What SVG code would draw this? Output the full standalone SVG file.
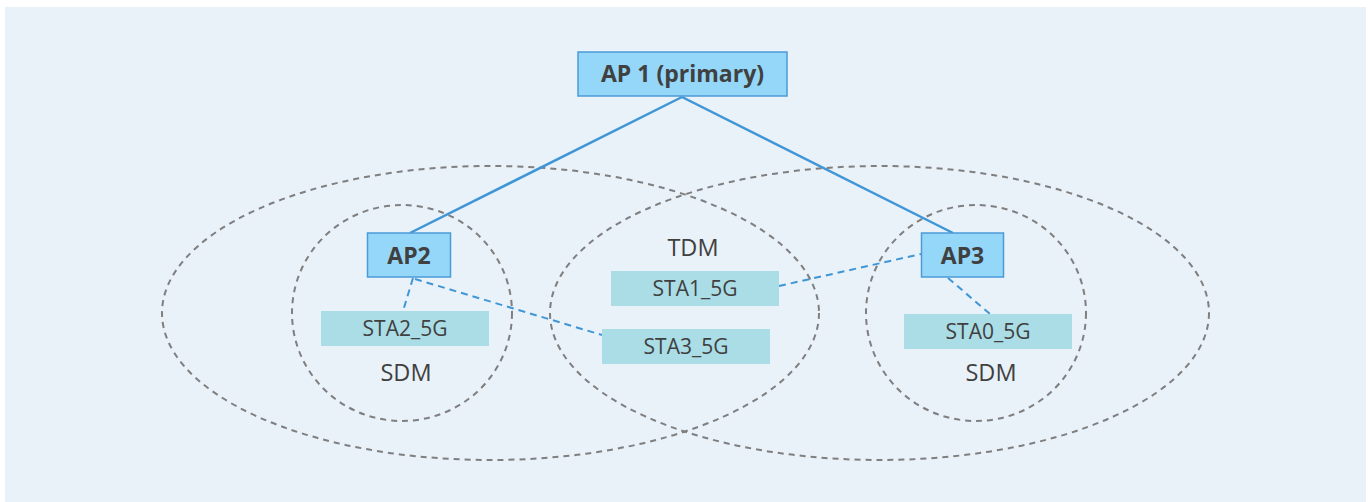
<svg xmlns="http://www.w3.org/2000/svg" width="1370" height="502" viewBox="0 0 1370 502">
<style>
.bg{fill:#E9F1F9}
.zone{fill:none;stroke:#7F7F7F;stroke-width:2;stroke-dasharray:6 5}
.ap{fill:#94D7F8;stroke:#4B9BD8;stroke-width:1.5}
.sta{fill:#AADDE6}
.aptxt{font-family:"Open Sans","Noto Sans",sans-serif;font-weight:bold;font-size:23px;fill:#404040;text-anchor:middle}
.statxt{font-family:"Open Sans","Noto Sans",sans-serif;font-size:21px;fill:#404040;text-anchor:middle}
.lbl{font-family:"Open Sans","Noto Sans",sans-serif;font-size:23.5px;fill:#404040;text-anchor:middle}
.solid{fill:none;stroke:#3F96D6;stroke-width:2.5}
.dash{fill:none;stroke:#3F96D6;stroke-width:2;stroke-dasharray:7 5}
</style>
<rect class="bg" x="5" y="7" width="1361" height="495"/>
<g id="zones">
<ellipse class="zone" cx="490.5" cy="313" rx="328.5" ry="147"/>
<ellipse class="zone" cx="879.5" cy="313" rx="329.5" ry="147"/>
<ellipse class="zone" cx="402" cy="313" rx="110" ry="108"/>
<ellipse class="zone" cx="976" cy="313" rx="110" ry="108"/>
</g>
<g id="connectors">
<line class="solid" x1="682" y1="97" x2="410" y2="233"/>
<line class="solid" x1="682" y1="97" x2="953" y2="233"/>
<line class="dash" x1="413" y1="278" x2="403" y2="311"/>
<line class="dash" x1="415" y1="279" x2="602" y2="335"/>
<line class="dash" x1="779" y1="286" x2="921" y2="254"/>
<line class="dash" x1="948" y1="278" x2="990" y2="314"/>
</g>
<g id="ap1"><rect class="ap" x="578" y="52" width="209" height="44"/><text class="aptxt" x="682.5" y="81.5">AP 1 (primary)</text></g>
<g id="ap2"><rect class="ap" x="367.5" y="233" width="83" height="44"/><text class="aptxt" x="409" y="264">AP2</text></g>
<g id="ap3"><rect class="ap" x="921.5" y="233" width="82" height="44"/><text class="aptxt" x="962.5" y="264">AP3</text></g>
<g id="sta2"><rect class="sta" x="321" y="311" width="168" height="35"/><text class="statxt" x="405" y="335.5">STA2_5G</text></g>
<g id="sta1"><rect class="sta" x="611" y="271" width="168" height="35"/><text class="statxt" x="695" y="295.5">STA1_5G</text></g>
<g id="sta3"><rect class="sta" x="602" y="329" width="168" height="35"/><text class="statxt" x="686" y="353.5">STA3_5G</text></g>
<g id="sta0"><rect class="sta" x="904" y="314" width="168" height="35"/><text class="statxt" x="988" y="338.5">STA0_5G</text></g>
<g id="labels">
<text class="lbl" x="406" y="380.5">SDM</text>
<text class="lbl" x="693" y="255.5">TDM</text>
<text class="lbl" x="991" y="380.5">SDM</text>
</g>
</svg>
